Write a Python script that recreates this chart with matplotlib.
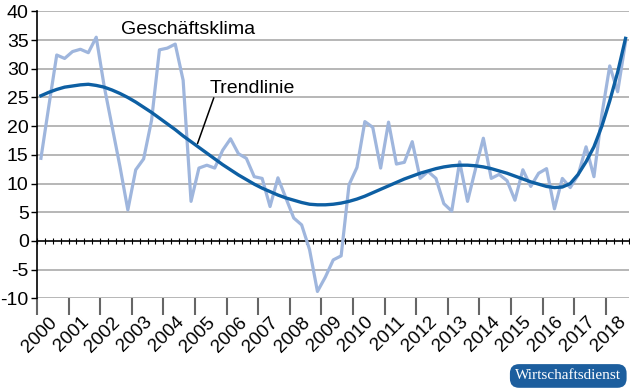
#!/usr/bin/env python3
"""Geschäftsklima with polynomial trend line, 2000-2018 (quarterly)."""

import matplotlib
matplotlib.use("Agg")
import matplotlib.pyplot as plt
import matplotlib.transforms as mtransforms
import numpy as np

# quarterly values 2000Q1 .. 2018Q3
klima = [
    14.4, 23.5, 32.4, 31.8,   # 2000
    33.0, 33.4, 32.8, 35.5,   # 2001
    27.0, 20.0, 13.0, 5.4,    # 2002
    12.4, 14.3, 21.0, 33.3,   # 2003
    33.6, 34.3, 28.0, 6.9,    # 2004
    12.7, 13.2, 12.7, 15.8,   # 2005
    17.8, 15.2, 14.4, 11.2,   # 2006
    10.9, 6.0, 11.0, 7.5,     # 2007
    4.0, 2.8, -1.5, -8.8,     # 2008
    -6.3, -3.3, -2.6, 9.8,    # 2009
    12.8, 20.8, 19.8, 12.7,   # 2010
    20.7, 13.4, 13.7, 17.3,   # 2011
    10.9, 12.1, 10.9, 6.5,    # 2012
    5.2, 13.8, 6.9, 12.5,     # 2013
    17.9, 10.9, 11.6, 10.5,   # 2014
    7.1, 12.4, 9.5, 11.8,     # 2015
    12.6, 5.6, 10.9, 9.3,     # 2016
    11.5, 16.4, 11.2, 22.0,   # 2017
    30.5, 26.0, 34.7,         # 2018
]

trend = [
    25.3, 25.9, 26.4, 26.8,
    27.0, 27.2, 27.3, 27.1,
    26.8, 26.3, 25.7, 25.0,
    24.2, 23.3, 22.4, 21.4,
    20.4, 19.4, 18.3, 17.3,
    16.3, 15.3, 14.3, 13.3,
    12.4, 11.5, 10.7, 9.9,
    9.2, 8.6, 8.0, 7.5,
    7.1, 6.7, 6.4, 6.3,
    6.3, 6.4, 6.6, 6.9,
    7.3, 7.8, 8.4, 9.0,
    9.6, 10.2, 10.8, 11.3,
    11.8, 12.2, 12.6, 12.9,
    13.1, 13.2, 13.2, 13.1,
    12.9, 12.6, 12.2, 11.8,
    11.3, 10.8, 10.3, 9.9,
    9.5, 9.3, 9.4, 10.0,
    11.6, 13.8, 16.4, 20.0,
    24.4, 29.4, 35.3,
]

years = [str(y) for y in range(2000, 2019)]
y_ticks = list(range(-10, 45, 5))

LIGHT = "#9fb6dd"
DARK = "#0d5fa3"
GRID = "#a3a3a3"

plt.rcParams["font.family"] = ["Liberation Sans", "DejaVu Sans"]
plt.rcParams["axes.unicode_minus"] = False

fig = plt.figure(figsize=(6.3, 3.9), dpi=100)
ax = fig.add_axes([0.0587, 0.235, 0.9405, 0.7358])

n_q = len(years) * 4
xpos = np.arange(len(klima)) + 0.5

ax.set_xlim(0, len(klima))
ax.set_ylim(-10, 40)

for v in y_ticks:
    if v != 0:
        ax.axhline(v, color=GRID, lw=1.1, zorder=1)

ax.plot(xpos, klima, color=LIGHT, lw=2.3, solid_joinstyle="round", zorder=3)
ax.plot(xpos, trend, color=DARK, lw=2.4, solid_joinstyle="round", zorder=4)

# zero line with quarter ticks
sec = ax.secondary_xaxis(0.2)
sec.set_xticks(np.arange(0, len(klima) + 1))
sec.tick_params(axis="x", direction="inout", length=4, width=0.8, color="black", labelbottom=False)
sec.spines["bottom"].set_color("black")
sec.spines["bottom"].set_linewidth(1.2)

for s in ["top", "right", "bottom"]:
    ax.spines[s].set_visible(False)
ax.spines["left"].set_color("black")
ax.spines["left"].set_linewidth(1.2)

ax.set_yticks(y_ticks)
ax.set_yticklabels([str(v) for v in y_ticks], fontsize=14)
ax.tick_params(axis="y", length=4, width=1, color="black", pad=2)

ax.set_xticks(np.arange(0, n_q - 3, 4))
ax.set_xticklabels([])
ax.tick_params(axis="x", which="major", length=12, width=1.5, color="#666666")
ax.set_xticks(np.arange(2, n_q, 4), minor=True)
ax.set_xticklabels(years, minor=True, rotation=45, ha="right", fontsize=13.5)
ax.tick_params(axis="x", which="minor", length=0, pad=11)
offset = mtransforms.ScaledTranslation(8 / 100, 0, fig.dpi_scale_trans)
for lab in ax.get_xticklabels(minor=True):
    lab.set_transform(lab.get_transform() + offset)

ax.text(10.6, 36.1, "Geschäftsklima", fontsize=14, ha="left", va="baseline")
ax.text(21.8, 25.8, "Trendlinie", fontsize=14, ha="left", va="baseline")
ax.annotate("", xy=(xpos[20] - 0.3, trend[20] + 0.2), xytext=(22.5, 25.4),
            arrowprops=dict(arrowstyle="-", color="black", lw=1.1))

fig.text(0.902, 0.036, "Wirtschaftsdienst", fontsize=11, color="white",
         family=["Liberation Serif", "DejaVu Serif"], ha="center", va="center",
         bbox=dict(boxstyle="round,pad=0.35,rounding_size=0.6", fc="#1c5e9e", ec="none"))

fig.savefig("out.png", dpi=100)
